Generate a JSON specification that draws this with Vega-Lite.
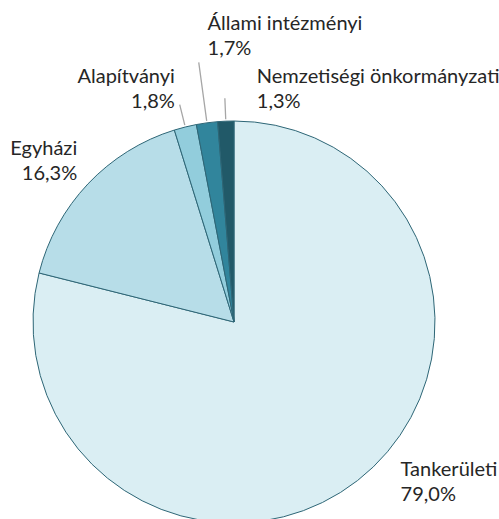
{
  "$schema": "https://vega.github.io/schema/vega-lite/v6.json",
  "autosize": "none",
  "padding": {"left": 0, "top": 125, "right": 31, "bottom": 0},
  "width": 468,
  "height": 394,
  "background": "white",
  "config": {"view": {"stroke": null}, "text": {"font": "Lato", "fontSize": 20, "fill": "#262626", "lineBreak": "\n", "lineHeight": 25}},
  "data": {"values": [
    {"name": "Tankerületi", "share": 79.0, "ord": 1, "label": "Tankerületi\n79,0%"},
    {"name": "Egyházi", "share": 16.3, "ord": 2, "label": "Egyházi\n16,3%"},
    {"name": "Alapítványi", "share": 1.8, "ord": 3, "label": "Alapítványi\n1,8%"},
    {"name": "Állami intézményi", "share": 1.7, "ord": 4, "label": "Állami intézményi\n1,7%"},
    {"name": "Nemzetiségi önkormányzati", "share": 1.3, "ord": 5, "label": "Nemzetiségi önkormányzati\n1,3%"}
  ]},
  "encoding": {
    "theta": {"field": "share", "type": "quantitative", "stack": true},
    "order": {"field": "ord", "type": "quantitative"}
  },
  "layer": [
    {
      "mark": {"type": "arc", "outerRadius": 201, "stroke": "#2E6676", "strokeWidth": 1},
      "encoding": {
        "color": {"field": "name", "type": "nominal", "legend": null,
          "scale": {"domain": ["Tankerületi", "Egyházi", "Alapítványi", "Állami intézményi", "Nemzetiségi önkormányzati"],
                    "range": ["#DAEEF3", "#B7DDE8", "#92CDDC", "#31859C", "#215968"]}}
      }
    },
    {
      "mark": {"type": "arc", "innerRadius": 203, "outerRadius": 224, "padAngle": 1, "filled": false, "stroke": "#A6A6A6", "strokeWidth": 1.3},
      "encoding": {"opacity": {"condition": {"test": "datum.name === 'Alapítványi' || datum.name === 'Nemzetiségi önkormányzati'", "value": 1}, "value": 0}}
    },
    {
      "mark": {"type": "arc", "innerRadius": 203, "outerRadius": 262, "padAngle": 1, "filled": false, "stroke": "#A6A6A6", "strokeWidth": 1.3},
      "encoding": {"opacity": {"condition": {"test": "datum.name === 'Állami intézményi'", "value": 1}, "value": 0}}
    },
    {
      "mark": {"type": "text", "radius": 227, "align": "left", "baseline": "alphabetic", "dx": 27, "dy": -25},
      "encoding": {"text": {"field": "label", "type": "nominal"}, "opacity": {"condition": {"test": "datum.name === 'Tankerületi'", "value": 1}, "value": 0}}
    },
    {
      "mark": {"type": "text", "radius": 229, "align": "right", "baseline": "alphabetic", "dx": 9.5, "dy": -9.7},
      "encoding": {"text": {"field": "label", "type": "nominal"}, "opacity": {"condition": {"test": "datum.name === 'Egyházi'", "value": 1}, "value": 0}}
    },
    {
      "mark": {"type": "text", "radius": 246, "align": "right", "baseline": "alphabetic", "dx": 0.5, "dy": 0},
      "encoding": {"text": {"field": "label", "type": "nominal"}, "opacity": {"condition": {"test": "datum.name === 'Alapítványi'", "value": 1}, "value": 0}}
    },
    {
      "mark": {"type": "text", "radius": 293, "align": "left", "baseline": "alphabetic", "dx": 13, "dy": -1.6},
      "encoding": {"text": {"field": "label", "type": "nominal"}, "opacity": {"condition": {"test": "datum.name === 'Állami intézményi'", "value": 1}, "value": 0}}
    },
    {
      "mark": {"type": "text", "radius": 240, "align": "left", "baseline": "alphabetic", "dx": 32.6, "dy": 0.8},
      "encoding": {"text": {"field": "label", "type": "nominal"}, "opacity": {"condition": {"test": "datum.name === 'Nemzetiségi önkormányzati'", "value": 1}, "value": 0}}
    }
  ]
}
